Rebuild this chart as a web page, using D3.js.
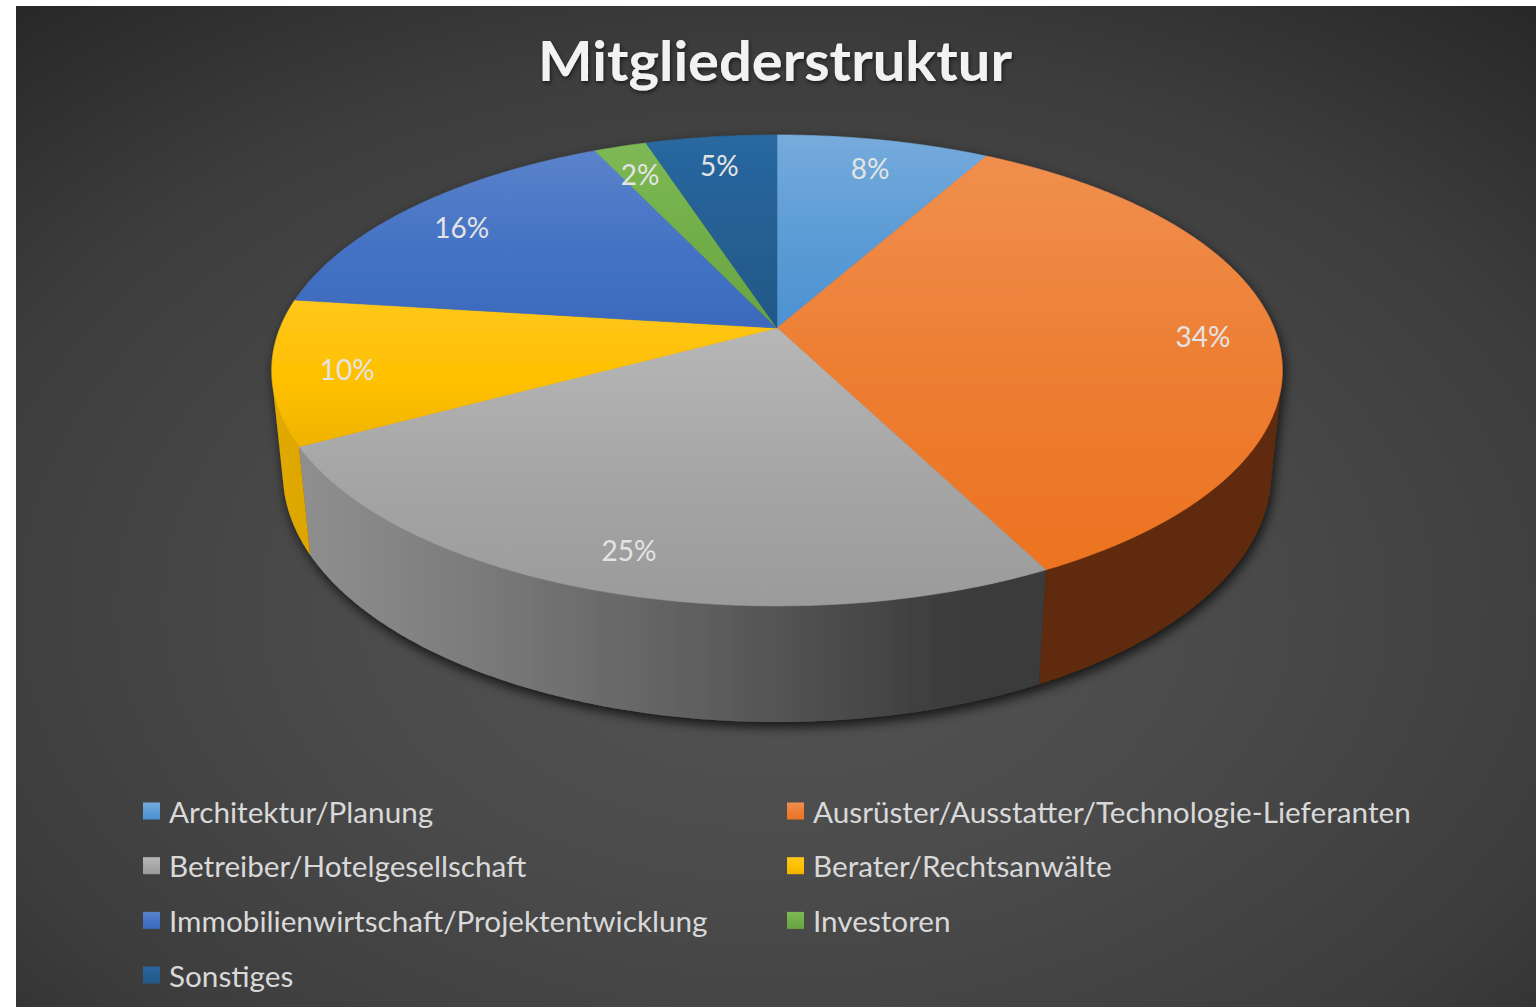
<!DOCTYPE html>
<html><head><meta charset="utf-8">
<script src="https://cdn.jsdelivr.net/npm/d3@7"></script>
<style>html,body{margin:0;padding:0;background:#fff;overflow:hidden}</style>
</head><body>
<script>
// ---- data ----
const title = "Mitgliederstruktur";
const categories = [
  "Architektur/Planung",
  "Ausrüster/Ausstatter/Technologie-Lieferanten",
  "Betreiber/Hotelgesellschaft",
  "Berater/Rechtsanwälte",
  "Immobilienwirtschaft/Projektentwicklung",
  "Investoren",
  "Sonstiges"
];
const values = [8.1, 34.4, 24.6, 9.9, 16.0, 2.0, 5.0];
const colors = ["#5B9BD5", "#ED7D31", "#A5A5A5", "#FFC000", "#4472C4", "#70AD47", "#255E91"];

// ---- setup ----
const W = 1540, H = 1007;
const svg = d3.select("body").append("svg").attr("width", W).attr("height", H);
const defs = svg.append("defs");

const bg = defs.append("radialGradient").attr("id", "bg")
  .attr("cx", 0.5).attr("cy", 0.6).attr("r", 0.8).attr("fx", 0.5).attr("fy", 0.6);
[[0, "#545454"], [0.35, "#4b4b4b"], [0.69, "#3d3d3d"], [1, "#262626"]]
  .forEach(s => bg.append("stop").attr("offset", s[0]).attr("stop-color", s[1]));
svg.append("rect").attr("x", 16).attr("y", 6).attr("width", 1520).attr("height", 1001).attr("fill", "url(#bg)");

const shadow = defs.append("filter").attr("id", "shadow")
  .attr("x", "-10%").attr("y", "-10%").attr("width", "125%").attr("height", "130%");
shadow.append("feDropShadow").attr("dx", 2).attr("dy", 5).attr("stdDeviation", 6)
  .attr("flood-color", "#000").attr("flood-opacity", 0.75);

const tshadow = defs.append("filter").attr("id", "tshadow")
  .attr("x", "-5%").attr("y", "-20%").attr("width", "110%").attr("height", "150%");
tshadow.append("feDropShadow").attr("dx", 1).attr("dy", 2).attr("stdDeviation", 2)
  .attr("flood-color", "#000").attr("flood-opacity", 0.6);

const color = d3.scaleOrdinal().domain(categories).range(colors);
function shade(c, k) { const h = d3.hsl(c); h.l = Math.min(1, h.l * k); return h.formatHex(); }

// per-slice vertical gradient for top faces and legend swatches
categories.forEach((c, i) => {
  const g = defs.append("linearGradient").attr("id", "top" + i)
    .attr("x1", 0).attr("y1", 0).attr("x2", 0).attr("y2", 1);
  g.append("stop").attr("offset", 0).attr("stop-color", shade(color(c), 1.11));
  g.append("stop").attr("offset", 0.55).attr("stop-color", shade(color(c), 1.0));
  g.append("stop").attr("offset", 1).attr("stop-color", shade(color(c), 0.94));
});

// ---- perspective projection of a flat cylinder ----
const P = { cx: 777, cy: 328, f: 2449, D: 4.928, sa: 0.4584, ca: 0.8887, h: 0.235 };
function proj(t, r, y) {
  const X = r * Math.sin(t), Z = -r * Math.cos(t), Y = y;
  const v = Y * P.ca - Z * P.sa, d = P.D - (Y * P.sa + Z * P.ca);
  return [P.cx + P.f * X / d, P.cy - P.f * v / d];
}
const tv = Math.acos(-1 / (P.D * P.ca));          // silhouette angle (right)
const tv1 = tv, tv2 = 2 * Math.PI - tv;           // visible wall range
function samples(a, b, step) {
  const n = Math.max(2, Math.ceil((b - a) / step));
  return d3.range(n + 1).map(i => a + (b - a) * i / n);
}
const lightN = Math.hypot(1, 0.3);
function lightK(t) {
  const nx = Math.sin(t), nz = -Math.cos(t);
  const dot = Math.max(0, (-nx + 0.3 * nz) / lightN);
  return 0.36 + 0.52 * dot;
}

const arcs = d3.pie().sort(null).value(d => d)(values);
const pieG = svg.append("g").attr("filter", "url(#shadow)");
const line = d3.line();

// side walls
arcs.forEach((a, i) => {
  const lo = Math.max(a.startAngle, tv1), hi = Math.min(a.endAngle, tv2);
  if (hi <= lo) return;
  const ts = samples(lo, hi, Math.PI / 360);
  const pts = ts.map(t => proj(t, 1, 0)).concat(ts.slice().reverse().map(t => proj(t, 1, -P.h)));
  const xs = proj(lo, 1, 0)[0], xe = proj(hi, 1, 0)[0];
  const g = defs.append("linearGradient").attr("id", "side" + i)
    .attr("gradientUnits", "userSpaceOnUse")
    .attr("x1", xs).attr("y1", 0).attr("x2", xe).attr("y2", 0);
  samples(lo, hi, Math.PI / 60).forEach(t => {
    const off = (xs - proj(t, 1, 0)[0]) / (xs - xe);
    g.append("stop").attr("offset", Math.max(0, Math.min(1, off)))
      .attr("stop-color", shade(color(categories[i]), lightK(t)));
  });
  pieG.append("path").attr("d", line(pts) + "Z").attr("fill", `url(#side${i})`);
});

// top faces
arcs.forEach((a, i) => {
  const pts = [proj(0, 0, 0)].concat(samples(a.startAngle, a.endAngle, Math.PI / 360).map(t => proj(t, 1, 0)));
  pieG.append("path").attr("d", line(pts) + "Z").attr("fill", `url(#top${i})`)
    .attr("stroke", `url(#top${i})`).attr("stroke-width", 0.6);
});

// data labels
const pct = d3.format(".0%");
const total = d3.sum(values);
const labelPos = d => proj((d.startAngle + d.endAngle) / 2, 0.855, 0);
svg.append("g").selectAll("text").data(arcs).join("text")
  .attr("x", d => labelPos(d)[0])
  .attr("y", d => labelPos(d)[1] + 4)
  .attr("text-anchor", "middle").attr("dominant-baseline", "central")
  .attr("font-family", "Lato, 'Open Sans', sans-serif").attr("font-size", 28)
  .attr("fill", "#e4e4e4")
  .text(d => pct(d.data / total));

// title
svg.append("text").attr("x", 775).attr("y", 81).attr("text-anchor", "middle")
  .attr("font-family", "Lato, 'Open Sans', sans-serif").attr("font-weight", 700)
  .attr("font-size", 55).attr("fill", "#f2f2f2")
  .attr("textLength", 474).attr("lengthAdjust", "spacingAndGlyphs")
  .attr("filter", "url(#tshadow)")
  .text(title);

// legend
const leg = svg.append("g").selectAll("g").data(categories).join("g")
  .attr("transform", (d, i) => `translate(${143 + (i % 2) * 644},${811 + Math.floor(i / 2) * 54.7})`);
leg.append("rect").attr("x", 0).attr("y", -8.5).attr("width", 17).attr("height", 17)
  .attr("fill", (d, i) => `url(#top${i})`);
leg.append("text").attr("x", 26).attr("y", 0).attr("dominant-baseline", "central")
  .attr("font-family", "Lato, 'Open Sans', sans-serif").attr("font-size", 29.7)
  .attr("fill", "#d9d9d9").text(d => d);
</script>
</body></html>
